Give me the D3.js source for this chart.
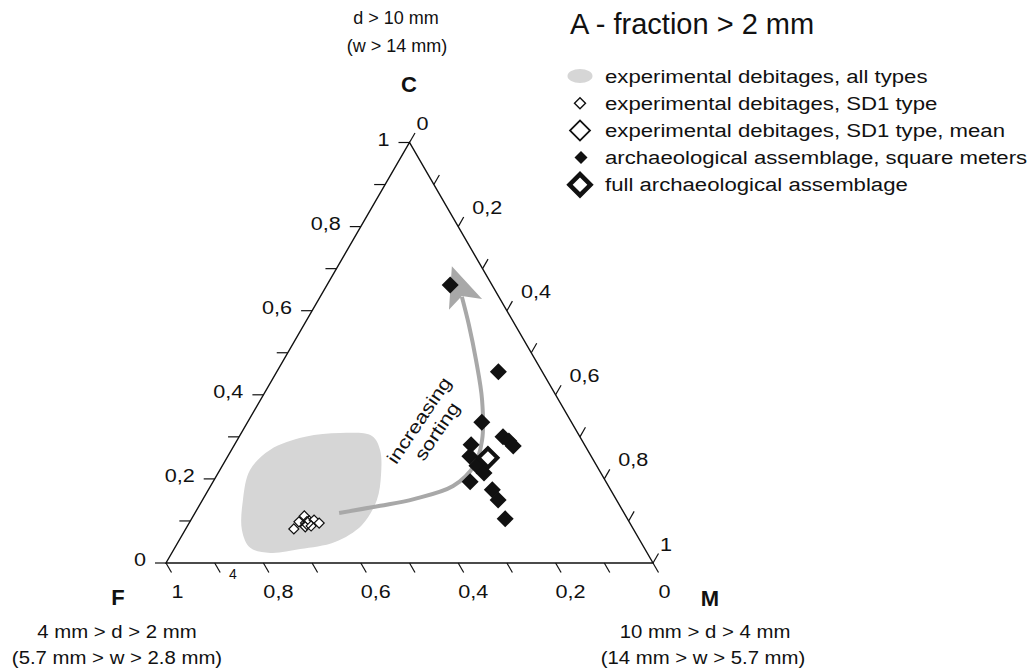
<!DOCTYPE html>
<html>
<head>
<meta charset="utf-8">
<script src="https://cdn.jsdelivr.net/npm/d3@7"></script>
<style>
  body { margin: 0; background: #fff; }
  text { font-family: "Liberation Sans", Arial, Helvetica, sans-serif; fill: #111; }
</style>
</head>
<body>
<svg id="chart" width="1033" height="672"></svg>
<script>
// compositions, as [F, M, C] fractions
const sd1Points = [
  [0.697, 0.222, 0.081], [0.678, 0.224, 0.098], [0.660, 0.228, 0.112],
  [0.656, 0.244, 0.100], [0.645, 0.253, 0.102], [0.638, 0.267, 0.095],
  [0.671, 0.243, 0.086], [0.658, 0.254, 0.088]
];
const sd1Mean = [[0.663, 0.242, 0.095]];
const archPoints = [
  [0.086, 0.253, 0.661], [0.090, 0.455, 0.455], [0.184, 0.481, 0.335],
  [0.233, 0.486, 0.281], [0.158, 0.542, 0.300], [0.151, 0.559, 0.290],
  [0.148, 0.574, 0.278], [0.249, 0.497, 0.254], [0.246, 0.523, 0.231],
  [0.240, 0.546, 0.214], [0.279, 0.528, 0.193], [0.243, 0.583, 0.174],
  [0.243, 0.607, 0.150], [0.251, 0.644, 0.105]
];
const fullAssemblage = [[0.214, 0.536, 0.250]];
// outline of the field of all experimental debitages
const expField = [
  [0.564, 0.136, 0.300], [0.488, 0.203, 0.309], [0.426, 0.272, 0.302],
  [0.426, 0.305, 0.269], [0.454, 0.337, 0.209], [0.492, 0.358, 0.150],
  [0.553, 0.357, 0.090], [0.628, 0.322, 0.050], [0.708, 0.259, 0.033],
  [0.774, 0.202, 0.024], [0.809, 0.155, 0.036], [0.805, 0.117, 0.078],
  [0.767, 0.083, 0.150], [0.717, 0.062, 0.221], [0.652, 0.079, 0.269]
];
// "increasing sorting" arrow
const arrowShaft = [
  [0.585, 0.296, 0.119], [0.493, 0.372, 0.136], [0.415, 0.433, 0.152],
  [0.319, 0.498, 0.183], [0.252, 0.517, 0.231], [0.205, 0.503, 0.292],
  [0.157, 0.455, 0.388], [0.122, 0.395, 0.483], [0.095, 0.339, 0.566],
  [0.076, 0.291, 0.633]
];
const arrowHead = [
  [0.060, 0.234, 0.706], [0.037, 0.335, 0.628], [0.075, 0.290, 0.635], [0.118, 0.280, 0.602]
];
const tickValues = d3.range(0, 11).map(i => i / 10);
const labelValues = [0, 0.2, 0.4, 0.6, 0.8, 1];
const legendItems = [
  { label: "experimental debitages, all types", kind: "field" },
  { label: "experimental debitages, SD1 type", kind: "sd1" },
  { label: "experimental debitages, SD1 type, mean", kind: "mean" },
  { label: "archaeological assemblage, square meters", kind: "arch" },
  { label: "full archaeological assemblage", kind: "full" }
];

const svg = d3.select("#chart");
const ink = "#111";

// ternary -> screen, through two linear scales
const xT = d3.scaleLinear().domain([0, 1]).range([166, 653]);
const yT = d3.scaleLinear().domain([0, 1]).range([563, 142.5]);
const proj = d => [xT(d[1] + d[2] / 2), yT(d[2])];

const fmt = v => (v === 0 || v === 1) ? String(v) : d3.format(".1f")(v).replace(".", ",");

// widen text like the original artwork
function stretch(sel, k) {
  sel.each(function () {
    const w = this.getComputedTextLength();
    d3.select(this).attr("textLength", w * k).attr("lengthAdjust", "spacingAndGlyphs");
  });
}

function diamond(g, pts, h, fill, stroke, sw) {
  g.selectAll(null).data(pts).enter().append("path")
    .attr("d", d3.symbol().type(d3.symbolSquare).size(2 * h * h))
    .attr("transform", d => "translate(" + proj(d) + ") rotate(45)")
    .attr("fill", fill)
    .attr("stroke", stroke)
    .attr("stroke-width", sw);
}

// experimental field
svg.append("path")
  .datum(expField)
  .attr("d", d3.line().x(d => proj(d)[0]).y(d => proj(d)[1]).curve(d3.curveCatmullRomClosed))
  .attr("fill", "#d6d6d6");

// arrow
const arrowCol = "#a8a8a8";
svg.append("path")
  .datum(arrowShaft)
  .attr("d", d3.line().x(d => proj(d)[0]).y(d => proj(d)[1]).curve(d3.curveCatmullRom))
  .attr("fill", "none")
  .attr("stroke", arrowCol)
  .attr("stroke-width", 4);
svg.append("path")
  .datum(arrowHead)
  .attr("d", d3.line().x(d => proj(d)[0]).y(d => proj(d)[1]).curve(d3.curveLinearClosed))
  .attr("fill", arrowCol);

const lbl = svg.append("g")
  .attr("transform", "translate(420,421) rotate(-56)")
  .style("font-size", "18px");
lbl.append("text").attr("text-anchor", "middle").attr("y", 5).text("increasing").call(stretch, 1.22);
lbl.append("text").attr("text-anchor", "middle").attr("x", 1).attr("y", 26).text("sorting").call(stretch, 1.22);

// triangle
const corners = [[1, 0, 0], [0, 1, 0], [0, 0, 1]];
svg.append("path")
  .datum(corners)
  .attr("d", d3.line().x(d => proj(d)[0]).y(d => proj(d)[1]).curve(d3.curveLinearClosed))
  .attr("fill", "none")
  .attr("stroke", ink)
  .attr("stroke-width", 1.4);

// ticks: C on the left edge, M on the right edge, F on the base
const tickLen = 11;
const axes = [
  { pos: v => proj([1 - v, 0, v]), dir: [-1, 0] },
  { pos: v => proj([0, v, 1 - v]), dir: [0.5, -0.866] },
  { pos: v => proj([v, 1 - v, 0]), dir: [0.5, 0.866] }
];
axes.forEach(ax => {
  svg.append("g").selectAll("line").data(tickValues).enter().append("line")
    .attr("x1", v => ax.pos(v)[0])
    .attr("y1", v => ax.pos(v)[1])
    .attr("x2", v => ax.pos(v)[0] + ax.dir[0] * tickLen)
    .attr("y2", v => ax.pos(v)[1] + ax.dir[1] * tickLen)
    .attr("stroke", ink)
    .attr("stroke-width", 1.2);
});

const tl = svg.append("g").style("font-size", "18px");
tl.selectAll(".lab-c").data(labelValues).enter().append("text")
  .attr("text-anchor", "end")
  .attr("x", v => axes[0].pos(v)[0] - 20)
  .attr("y", v => axes[0].pos(v)[1] + 3)
  .text(fmt).call(stretch, 1.2);
tl.selectAll(".lab-m").data(labelValues).enter().append("text")
  .attr("text-anchor", "start")
  .attr("x", v => axes[1].pos(v)[0] + (fmt(v).length > 1 ? 14 : 7))
  .attr("y", v => axes[1].pos(v)[1] - 12.5)
  .text(fmt).call(stretch, 1.2);
tl.selectAll(".lab-f").data(labelValues).enter().append("text")
  .attr("text-anchor", "middle")
  .attr("x", v => axes[2].pos(v)[0] + (fmt(v).length > 1 ? 15 : 11.5))
  .attr("y", 597.5)
  .text(fmt).call(stretch, 1.2);
// stray mark in the original artwork
svg.append("text").attr("x", 233).attr("y", 579).attr("text-anchor", "middle")
  .style("font-size", "14px").text("4");

// points
const pts = svg.append("g");
diamond(pts, sd1Points, 5, "#fff", ink, 1.2);
diamond(pts, sd1Mean, 6.5, "none", ink, 1.2);
diamond(pts, archPoints, 8.5, ink, "none", 0);
diamond(pts, fullAssemblage, 9.5, "#fff", ink, 4);

// pole names and class limits
const poles = svg.append("g");
poles.append("text").attr("x", 409).attr("y", 92).attr("text-anchor", "middle")
  .style("font-size", "22px").style("font-weight", "bold").text("C");
poles.append("text").attr("x", 118).attr("y", 605).attr("text-anchor", "middle")
  .style("font-size", "22px").style("font-weight", "bold").text("F");
poles.append("text").attr("x", 710).attr("y", 606).attr("text-anchor", "middle")
  .style("font-size", "22px").style("font-weight", "bold").text("M");

const limits = [
  { x: 396, y: 24, t: "d > 10 mm", k: 1.0 },
  { x: 397, y: 52, t: "(w > 14 mm)", k: 1.0 },
  { x: 117, y: 638, t: "4 mm > d > 2 mm", k: 1.13 },
  { x: 117, y: 664, t: "(5.7 mm > w > 2.8 mm)", k: 1.13 },
  { x: 705, y: 638, t: "10 mm > d > 4 mm", k: 1.13 },
  { x: 703, y: 664, t: "(14 mm > w > 5.7 mm)", k: 1.13 }
];
poles.selectAll(".lim").data(limits).enter().append("text")
  .attr("x", d => d.x).attr("y", d => d.y)
  .attr("text-anchor", "middle")
  .style("font-size", "18px")
  .text(d => d.t)
  .each(function (d) { d3.select(this).call(stretch, d.k); });

// title and legend
svg.append("text").attr("x", 570).attr("y", 34)
  .style("font-size", "29px").text("A - fraction > 2 mm");

const leg = svg.append("g").attr("transform", "translate(580,76)");
const row = leg.selectAll("g").data(legendItems).enter().append("g")
  .attr("transform", (d, i) => "translate(0," + (i * 27.2) + ")");
row.append("text").attr("x", 25).attr("y", 6.5)
  .style("font-size", "18px").text(d => d.label).call(stretch, 1.23);
row.each(function (d) {
  const g = d3.select(this);
  const sq = h => d3.symbol().type(d3.symbolSquare).size(2 * h * h)();
  if (d.kind === "field") {
    g.append("ellipse").attr("rx", 12.5).attr("ry", 7).attr("fill", "#d6d6d6");
  } else if (d.kind === "sd1") {
    g.append("path").attr("d", sq(5.5)).attr("transform", "rotate(45)")
      .attr("fill", "#fff").attr("stroke", ink).attr("stroke-width", 1.4);
  } else if (d.kind === "mean") {
    g.append("path").attr("d", sq(10)).attr("transform", "rotate(45)")
      .attr("fill", "#fff").attr("stroke", ink).attr("stroke-width", 1.8);
  } else if (d.kind === "arch") {
    g.append("path").attr("d", sq(6.5)).attr("transform", "translate(1,0) rotate(45)")
      .attr("fill", ink);
  } else {
    g.append("path").attr("d", sq(10.5)).attr("transform", "rotate(45)")
      .attr("fill", "#fff").attr("stroke", ink).attr("stroke-width", 4.5);
  }
});
</script>
</body>
</html>
